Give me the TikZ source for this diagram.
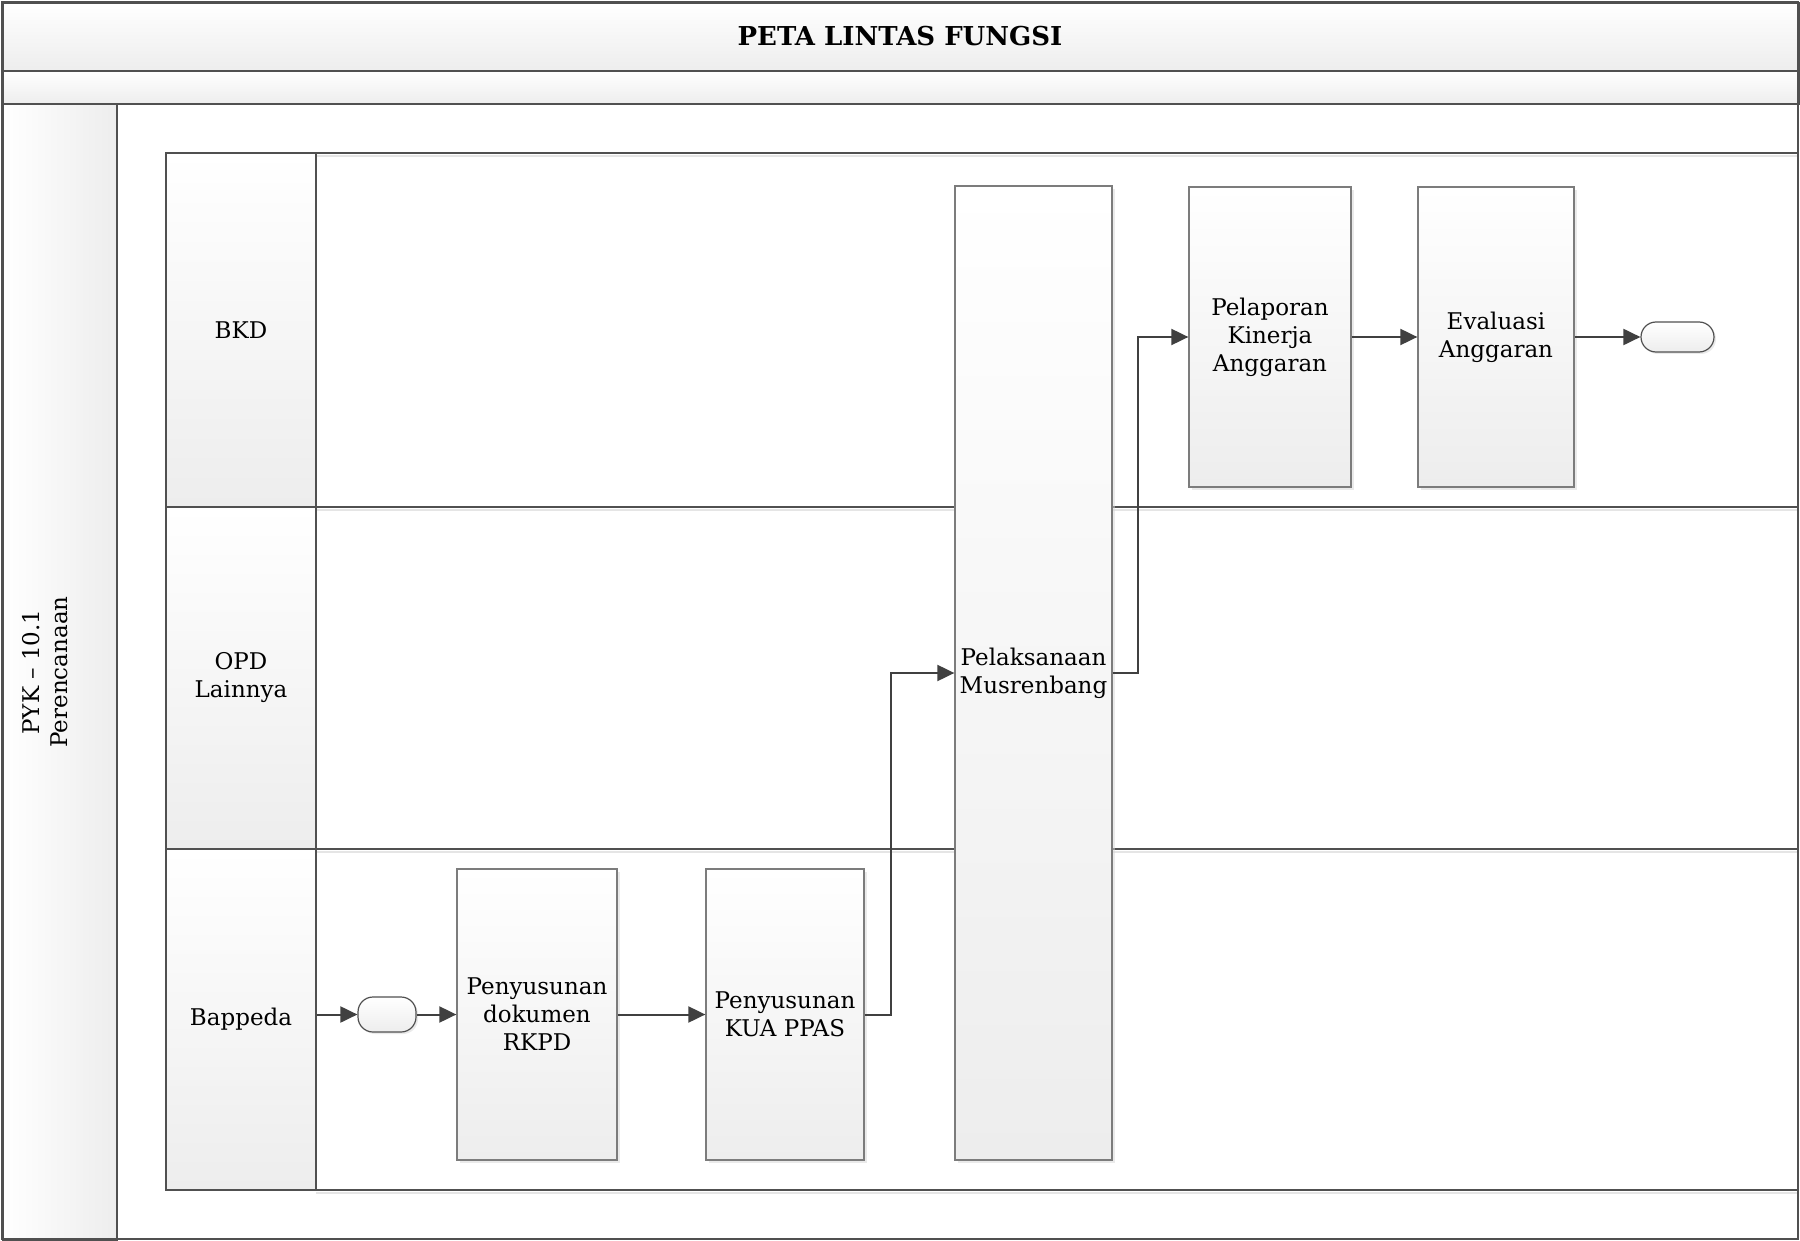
\documentclass[tikz,border=0pt]{standalone}
\usepackage{fontspec}
\setmainfont{DejaVu Serif}
\usetikzlibrary{arrows.meta,shadows}
\definecolor{frameline}{HTML}{505050}
\definecolor{boxline}{HTML}{7C7C7C}
\definecolor{flowline}{HTML}{404040}
\definecolor{shadeend}{HTML}{EDEDED}

\begin{document}
\begin{tikzpicture}[x=1pt,y=-1pt,
  every node/.style={font=\fontsize{23}{28}\selectfont, align=center, inner sep=0pt},
  band/.style={draw=frameline, line width=1.8pt, top color=white, bottom color=shadeend},
  lanecell/.style={draw=frameline, line width=1.3pt, top color=white, bottom color=shadeend,
    minimum width=150pt},
  procbox/.style={draw=boxline, line width=1.3pt, top color=white, bottom color=shadeend,
    drop shadow={shadow xshift=3pt, shadow yshift=-3pt, fill=black!16}},
  terminal/.style={draw=frameline, line width=1.2pt, rounded corners=15pt,
    top color=white, bottom color=shadeend,
    drop shadow={shadow xshift=2pt, shadow yshift=-2pt, fill=black!16}},
  laneline/.style={draw=frameline, line width=1.3pt},
  laneshade/.style={draw=black!10, line width=2pt},
  flow/.style={draw=flowline, line width=2pt, -{Triangle[length=17pt,width=16pt]}}
]
\useasboundingbox (0,0) rectangle (1800,1241);

% title bands
\fill[white] (0,0) rectangle (1800,1241);
\node[band, minimum width=1796pt, minimum height=68pt, anchor=north west] (titleband) at (2,2) {};
\node[font=\fontsize{26}{30}\selectfont\bfseries] (title) at (900,36) {PETA LINTAS FUNGSI};
\node[band, minimum width=1796pt, minimum height=33pt, anchor=north west] (subband) at (2,70) {};

% vertical side strip with the process name
\node[draw=frameline, line width=1.8pt, left color=white, right color=shadeend,
  minimum width=114pt, minimum height=1136pt, anchor=north west] (side) at (2,103) {};
\node[rotate=90] (sidetext) at (45,672) {PYK -- 10.1\\Perencanaan};

% swimlane lines
\draw[laneshade] (316,156) -- (1798,156);
\draw[laneshade] (316,510) -- (1798,510);
\draw[laneshade] (316,852) -- (1798,852);
\draw[laneshade] (316,1193) -- (1798,1193);
\draw[laneline] (316,153) -- (1798,153);
\draw[laneline] (316,507) -- (1798,507);
\draw[laneline] (316,849) -- (1798,849);
\draw[laneline] (316,1190) -- (1798,1190);

% lane headers
\node[lanecell, minimum height=354pt] (bkd) at (241,330) {BKD};
\node[lanecell, minimum height=342pt] (opd) at (241,678) {OPD\\Lainnya};
\node[lanecell, minimum height=341pt] (bap) at (241,1019.5) {Bappeda};

% outer frame
\draw[frameline, line width=2.5pt] (2,2) rectangle (1798,1239);

% process steps
\node[terminal, minimum width=58pt, minimum height=35pt] (start) at (387,1014.5) {};
\node[procbox, minimum width=160pt, minimum height=291pt] (rkpd) at (537,1014.5)
  {Penyusunan\\dokumen\\RKPD};
\node[procbox, minimum width=158pt, minimum height=291pt] (kua) at (785,1014.5)
  {Penyusunan\\KUA PPAS};
\node[procbox, minimum width=157pt, minimum height=974pt] (mus) at (1033.5,673)
  {Pelaksanaan\\Musrenbang};
\node[procbox, minimum width=162pt, minimum height=300pt] (pel) at (1270,337)
  {Pelaporan\\Kinerja\\Anggaran};
\node[procbox, minimum width=156pt, minimum height=300pt] (eva) at (1496,337)
  {Evaluasi\\Anggaran};
\node[terminal, minimum width=73pt, minimum height=30pt] (stop) at (1677.5,337) {};

% connectors
\draw[flow] (bap.east |- start.west) -- (start.west);
\draw[flow] (start.east) -- (rkpd.west);
\draw[flow] (rkpd.east) -- (kua.west);
\draw[flow] (kua.east) -- ++(26,0) |- (mus.west);
\draw[flow] (mus.east) -- ++(25,0) |- (pel.west);
\draw[flow] (pel.east) -- (eva.west);
\draw[flow] (eva.east) -- (stop.west);
\end{tikzpicture}
\end{document}
